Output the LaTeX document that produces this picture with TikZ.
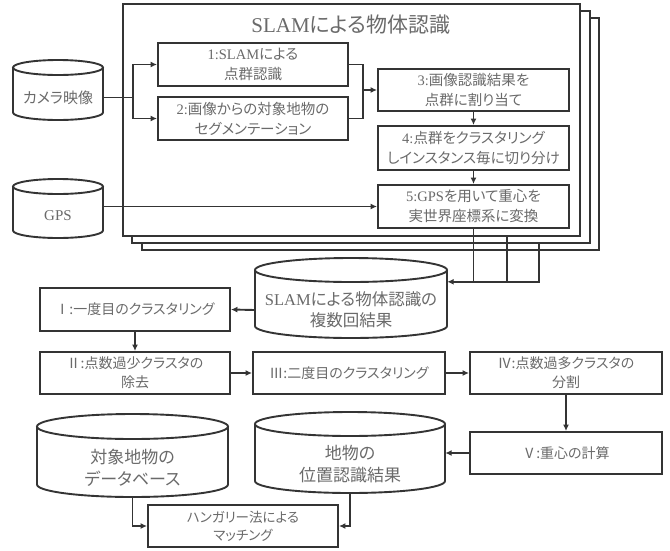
\documentclass[tikz,border=0pt]{standalone}
\usepackage{fontspec}
\setmainfont[RawFeature=+palt]{Noto Sans CJK JP}
\newfontfamily\lat{Liberation Serif}
\usetikzlibrary{arrows.meta,calc}
\definecolor{ln}{HTML}{343434}
\definecolor{tx}{HTML}{6A6A6A}
\newcommand\fs[2]{\fontsize{#1}{#2}\selectfont}
\tikzset{
  box/.style={draw=ln, line width=1.9pt, fill=white, text=tx, align=center, inner sep=0pt},
  frm/.style={draw=ln, line width=1.9pt, fill=white, inner sep=0pt, minimum width=457.5pt, minimum height=231.5pt},
  con/.style={draw=ln, line width=1.9pt},
  arr/.style={draw=ln, line width=1.9pt, -{Latex[length=6.5pt,width=6pt]}},
}
\newcommand\mycyl[8]{%
  \pgfmathsetmacro\cx{(#2+#4)/2}%
  \pgfmathsetmacro\rx{(#4-#2)/2}%
  \draw[con, fill=white] (#2,{#3+#6}) -- (#2,{#5-#6}) arc[start angle=180,end angle=360,x radius=\rx pt,y radius=#6pt] -- (#4,{#3+#6});
  \draw[con, fill=white] (\cx,{#3+#6}) ellipse [x radius=\rx pt, y radius=#6pt];
  \node[inner sep=0pt, minimum width={(#4-#2)*1pt}, minimum height={(#5-#3-2*#6)*1pt}, text=tx, align=center, font=#7] (#1) at (\cx,{(#3+2*#6+#5)/2}) {#8};
}
\begin{document}
\begin{tikzpicture}[x=1pt,y=-1pt]
\useasboundingbox (0,0) rectangle (670,550);
% stacked frames
\node[frm] (frame3) at (370.5,134) {};
\node[frm] (frame2) at (361,127) {};
\node[frm] (frame1) at (351.5,120) {};
\node[text=tx, font=\fs{21}{25}] (title) at (351,25) {{\lat SLAM}による物体認識};
% inner boxes
\node[box, font=\fs{14.5}{20}, minimum width=190pt, minimum height=43pt] (b1) at (253,64.5) {{\lat 1:SLAM}による\\点群認識};
\node[box, font=\fs{14.5}{20}, minimum width=190pt, minimum height=43pt] (b2) at (253,118.5) {{\lat 2:}画像からの対象地物の\\セグメンテーション};
\node[box, font=\fs{14.5}{20}, minimum width=191pt, minimum height=42pt] (b3) at (473.5,90) {{\lat 3:}画像認識結果を\\点群に割り当て};
\node[box, font=\fs{14.5}{20}, minimum width=191pt, minimum height=44pt] (b4) at (473.5,148) {{\lat 4:}点群をクラスタリング\\しインスタンス毎に切り分け};
\node[box, font=\fs{14.5}{20}, minimum width=191pt, minimum height=43pt] (b5) at (473.5,206.5) {{\lat 5:GPS}を用いて重心を\\実世界座標系に変換};
% input cylinders
\mycyl{cam}{13}{60}{103}{120}{7.5}{\fs{15}{20}}{カメラ映像}
\mycyl{gps}{13}{179}{103}{238}{7.5}{\fs{15}{20}}{{\lat GPS}}
% result cylinders
\mycyl{slamres}{255}{258}{447}{338}{12}{\fs{16.5}{21}}{{\lat SLAM}による物体認識の\\複数回結果}
\mycyl{loc}{255}{412}{445}{493}{12}{\fs{17}{22}}{地物の\\位置認識結果}
\mycyl{db}{37}{414}{228}{497}{12.5}{\fs{17}{22}}{対象地物の\\データベース}
% lower boxes
\node[box, font=\fs{14}{19}, minimum width=190pt, minimum height=43pt] (c1) at (135,309.5) {Ⅰ:一度目のクラスタリング};
\node[box, font=\fs{14}{19}, minimum width=190pt, minimum height=42pt] (c2) at (135,373) {Ⅱ:点数過少クラスタの\\除去};
\node[box, font=\fs{14}{19}, minimum width=192pt, minimum height=42pt] (c3) at (349,373) {Ⅲ:二度目のクラスタリング};
\node[box, font=\fs{14}{19}, minimum width=192pt, minimum height=42pt] (c4) at (566,373) {Ⅳ:点数過多クラスタの\\分割};
\node[box, font=\fs{14}{19}, minimum width=192pt, minimum height=42pt] (c5) at (566,453) {Ⅴ:重心の計算};
\node[box, font=\fs{13.5}{18}, minimum width=190pt, minimum height=42pt] (hung) at (243,526) {ハンガリー法による\\マッチング};
% connectors in frame
\coordinate (split) at (133,0 |- cam.east);
\coordinate (join) at (363,0 |- b3.west);
\draw[con] (cam.east) -- (split);
\draw[arr] (split) |- (b1.west);
\draw[arr] (split) |- (b2.west);
\draw[con] (b1.east) -| (join);
\draw[con] (b2.east) -| (join);
\draw[arr] (join) -- (b3.west);
\draw[arr] (b3) -- (b4);
\draw[arr] (b4) -- (b5);
\draw[arr] (gps.east |- b5.west) -- (b5.west);
% outputs of the stacked runs
\coordinate (f1o) at (frame1.south -| 507,0);
\coordinate (f2o) at (frame2.south -| 539,0);
\draw[arr] (b5.south) |- (slamres.north east);
\draw[con] (f1o) -- (f1o |- slamres.north east);
\draw[con] (f2o) |- (b5.south |- slamres.north east);
% lower flow
\draw[arr] (slamres.west) -- (c1.east);
\draw[arr] (c1) -- (c2);
\draw[arr] (c2) -- (c3);
\draw[arr] (c3) -- (c4);
\draw[arr] (c4.south -| 566,0) -- (c5);
\draw[arr] (c5.west) -- (c5.west -| loc.east);
\draw[arr] (db.south) |- (hung.west);
\draw[arr] (loc.south) |- (hung.east);
\end{tikzpicture}
\end{document}
